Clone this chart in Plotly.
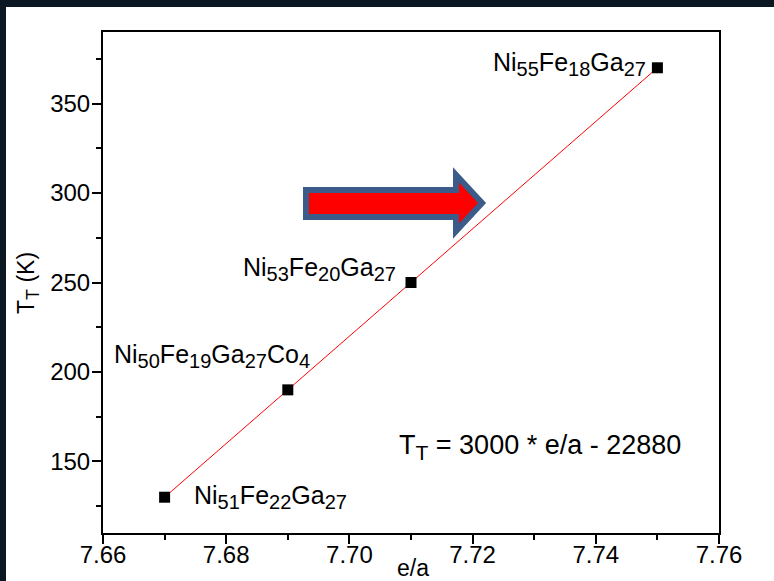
import plotly.graph_objects as go

# ---- data ----
e_a = [7.67, 7.69, 7.71, 7.75]
t_t = [130, 190, 250, 370]
compositions = [
    [("Ni", "51"), ("Fe", "22"), ("Ga", "27")],
    [("Ni", "50"), ("Fe", "19"), ("Ga", "27"), ("Co", "4")],
    [("Ni", "53"), ("Fe", "20"), ("Ga", "27")],
    [("Ni", "55"), ("Fe", "18"), ("Ga", "27")],
]
fit_slope = 3000
fit_intercept = -22880
x_range = [7.66, 7.76]
y_range = [110, 390]
x_ticks = [7.66, 7.68, 7.70, 7.72, 7.74, 7.76]
y_ticks = [150, 200, 250, 300, 350]

FONT = "Liberation Sans, Arial, sans-serif"
W, H = 774, 581
L, R, T, B = 103, 55, 32, 48
PW, PH = W - L - R, H - T - B
LAB_SIZE = 25
SUB_SIZE = 20


def sub(s, size):
    return f"<sub><span style='font-size:{size}px'>{s}</span></sub>"


def formula(parts):
    return "".join(el + sub(n, SUB_SIZE) for el, n in parts)


def dx(px):
    return x_range[0] + (px - L) / PW * (x_range[1] - x_range[0])


def dy(py):
    return y_range[1] - (py - T) / PH * (y_range[1] - y_range[0])


def px_to_paper_x(px):
    return (px - L) / PW


def py_to_paper_y(py):
    return (H - B - py) / PH


fig = go.Figure()

# white slide area over dark background
fig.add_shape(type="rect", xref="paper", yref="paper", layer="below",
              x0=px_to_paper_x(6), x1=px_to_paper_x(W + 5),
              y0=py_to_paper_y(H + 5), y1=py_to_paper_y(7),
              fillcolor="white", line=dict(width=0))

fit_x = [e_a[0], e_a[-1]]
fit_y = [fit_slope * v + fit_intercept for v in fit_x]
fig.add_trace(go.Scatter(x=fit_x, y=fit_y, mode="lines",
                         line=dict(color="#ff0000", width=1), hoverinfo="skip"))
fig.add_trace(go.Scatter(x=e_a, y=t_t, mode="markers",
                         marker=dict(symbol="square", size=11, color="black",
                                     line=dict(width=0))))

# compound labels
lab_cfg = [
    dict(xanchor="left", xshift=27, yshift=0),
    dict(xanchor="center", xshift=-76, yshift=34),
    dict(xanchor="right", xshift=-13, yshift=14),
    dict(xanchor="right", xshift=-9, yshift=4),
]
for xv, yv, parts, cfg in zip(e_a, t_t, compositions, lab_cfg):
    fig.add_annotation(x=xv, y=yv, text=formula(parts), showarrow=False,
                       xanchor=cfg["xanchor"], yanchor="middle",
                       xshift=cfg["xshift"], yshift=cfg["yshift"],
                       font=dict(family=FONT, size=LAB_SIZE, color="black"))

# equation
fig.add_annotation(x=dx(540), y=dy(447),
                   text="T" + sub("T", 21) + " = 3000 * e/a - 22880",
                   showarrow=False, xanchor="center", yanchor="middle",
                   font=dict(family=FONT, size=27, color="black"))

# axis titles
fig.add_annotation(xref="paper", yref="paper", x=(413 - L) / PW, y=(H - B - 568) / PH,
                   text="e/a", showarrow=False, xanchor="center", yanchor="middle",
                   font=dict(family=FONT, size=23, color="black"))
fig.add_annotation(xref="paper", yref="paper", x=(28 - L) / PW, y=(H - B - 283) / PH,
                   text="T" + sub("T", 18) + " (K)", showarrow=False, textangle=-90,
                   xanchor="center", yanchor="middle",
                   font=dict(family=FONT, size=23, color="black"))

# arrow shape
pts = [(306, 190), (456, 190), (456, 175), (482, 203), (456, 231), (456, 217), (306, 217)]
path = "M " + " L ".join(f"{dx(a)},{dy(b)}" for a, b in pts) + " Z"
fig.add_shape(type="path", path=path, xref="x", yref="y",
              fillcolor="#ff0000", line=dict(color="#3b5b88", width=6))

axis_common = dict(showline=True, linecolor="black", linewidth=2, mirror=True,
                   ticks="outside", ticklen=9, tickwidth=2, tickcolor="black",
                   showgrid=False, zeroline=False, automargin=False,
                   tickfont=dict(family=FONT, size=24, color="black"))
fig.update_xaxes(range=x_range, tickvals=x_ticks,
                 ticktext=[f"{v:.2f}" for v in x_ticks], ticklabelstandoff=-10,
                 minor=dict(ticks="outside", ticklen=5, tickwidth=2, tickcolor="black", dtick=0.01),
                 **axis_common)
fig.update_yaxes(range=y_range, tickvals=y_ticks, ticklabelstandoff=-3,
                 minor=dict(ticks="outside", ticklen=5, tickwidth=2, tickcolor="black", dtick=25, tick0=0),
                 **axis_common)

fig.update_layout(width=W, height=H, margin=dict(l=L, r=R, t=T, b=B, autoexpand=False),
                  paper_bgcolor="#0c1724", plot_bgcolor="white", showlegend=False)

fig.write_html("out.html", config={"displayModeBar": False},
               post_script="document.body.style.margin='0';document.body.style.overflow='hidden';")
